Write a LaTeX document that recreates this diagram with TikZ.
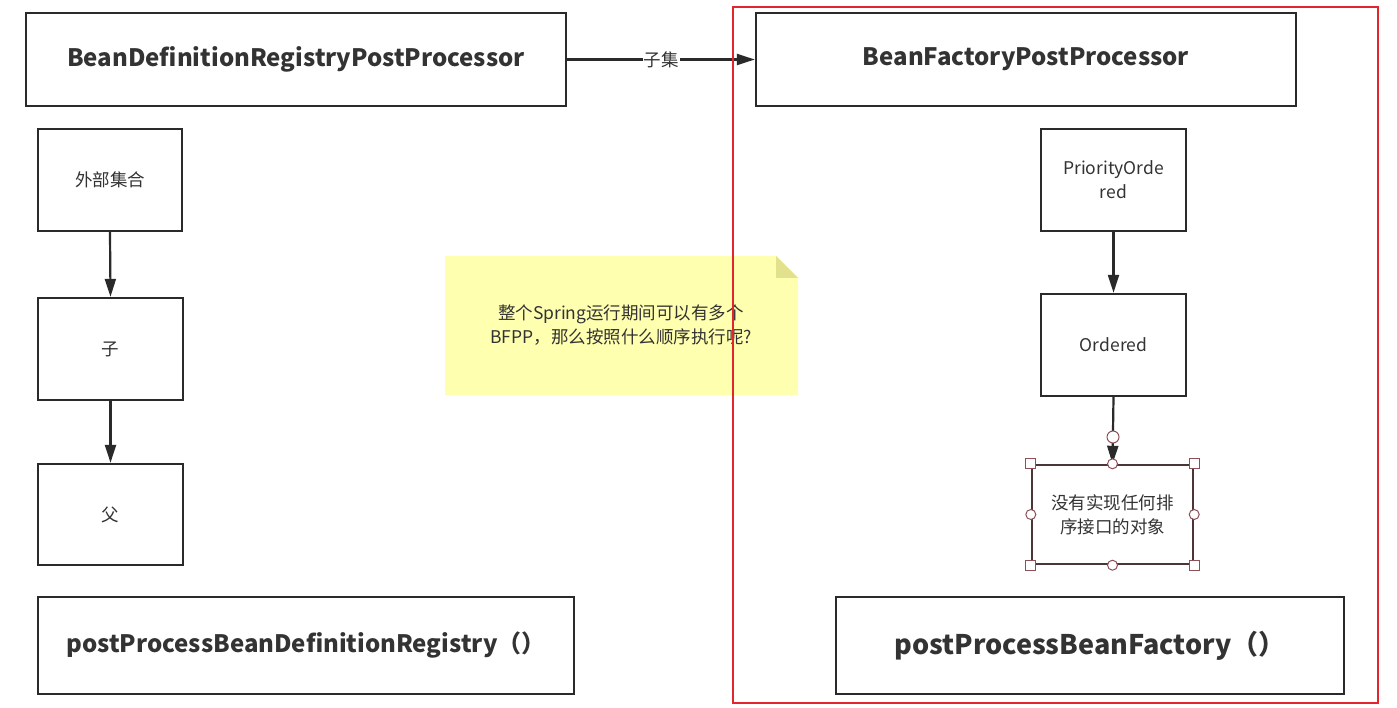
\documentclass[tikz,border=0pt]{standalone}
\usepackage{fontspec}
\setmainfont{Noto Sans CJK SC}
\usetikzlibrary{arrows.meta}
\definecolor{ln}{HTML}{2A2A2A}
\definecolor{txt}{HTML}{333333}
\definecolor{redframe}{HTML}{E3262E}
\definecolor{notefill}{HTML}{FFFFB0}
\definecolor{notefold}{HTML}{E2E28E}
\definecolor{hd}{HTML}{8E5058}
\definecolor{selbd}{HTML}{4A3636}
\begin{document}
\begin{tikzpicture}[x=1pt,y=-1pt,
  box/.style={draw=ln, line width=2.4pt, fill=white, inner sep=0pt, align=center, text=txt},
  arr/.style={draw=ln, line width=2.2pt, -{Triangle[length=18pt,width=11pt]}},
  ttl/.style={font=\fontsize{24}{28}\selectfont\bfseries},
  ttlbig/.style={font=\fontsize{27}{32}\selectfont\bfseries},
  small/.style={font=\fontsize{17.5}{24}\selectfont},
  sqhandle/.style={draw=hd, fill=white, line width=1pt, inner sep=0pt, minimum size=10pt, rectangle},
  cihandle/.style={draw=hd, fill=white, line width=1pt, inner sep=0pt, minimum size=10pt, circle}]
\useasboundingbox (0,0) rectangle (1397,708);
\fill[white] (0,0) rectangle (1397,708);

% top boxes
\node[box, ttl, minimum width=540pt, minimum height=93pt] (b1) at (296,59.5) {BeanDefinitionRegistryPostProcessor};
\node[box, ttl, minimum width=540pt, minimum height=93pt] (b2) at (1026,59.5) {BeanFactoryPostProcessor};
\draw[arr] (b1.east) -- node[fill=white, inner sep=1pt, small, text=txt] (lbl) {子集} (b2.west);

% left column
\node[box, small, minimum width=144pt, minimum height=102pt] (ext) at (110,180) {外部集合};
\node[box, small, minimum width=145pt, minimum height=102pt] (zi) at (110.5,349) {子};
\node[box, small, minimum width=145pt, minimum height=101pt] (fu) at (110.5,514.5) {父};
\draw[arr] (ext.south) -- (zi.north);
\draw[arr] (zi.south) -- (fu.north);
\node[box, ttl, minimum width=536pt, minimum height=97pt] (bl) at (306,645.5) {postProcessBeanDefinitionRegistry（）};

% note
\fill[notefill] (445,256) -- (776,256) -- (798,278) -- (798,395) -- (445,395) -- cycle;
\fill[notefold] (776,256) -- (798,278) -- (776,278) -- cycle;
\node[small, text=txt, align=center] (note) at (621,325) {整个Spring运行期间可以有多个\\BFPP，那么按照什么顺序执行呢?};

% right column
\node[box, small, minimum width=145pt, minimum height=102pt] (po) at (1113.5,180) {PriorityOrde\\red};
\node[box, small, minimum width=145pt, minimum height=102pt] (ord) at (1113.5,345) {Ordered};
\node[box, small, draw=selbd, minimum width=161pt, minimum height=99pt] (none) at (1112.5,514.5) {没有实现任何排\\序接口的对象};
\draw[arr] (po.south) -- (ord.north);
\draw[arr] (ord.south) -- (none.north);
\node[box, ttlbig, minimum width=508pt, minimum height=97pt] (br) at (1090,645.5) {postProcessBeanFactory（）};

% selection handles
\node[cihandle, minimum size=12pt] (conn) at (1113,437) {};
\foreach \a in {north west, north east, south west, south east}
  \node[sqhandle] at (none.\a) {};
\foreach \a in {north, south, east, west}
  \node[cihandle] at (none.\a) {};

% red frame
\draw[redframe, line width=1.8pt] (733,7) rectangle (1378,703);
\end{tikzpicture}
\end{document}
